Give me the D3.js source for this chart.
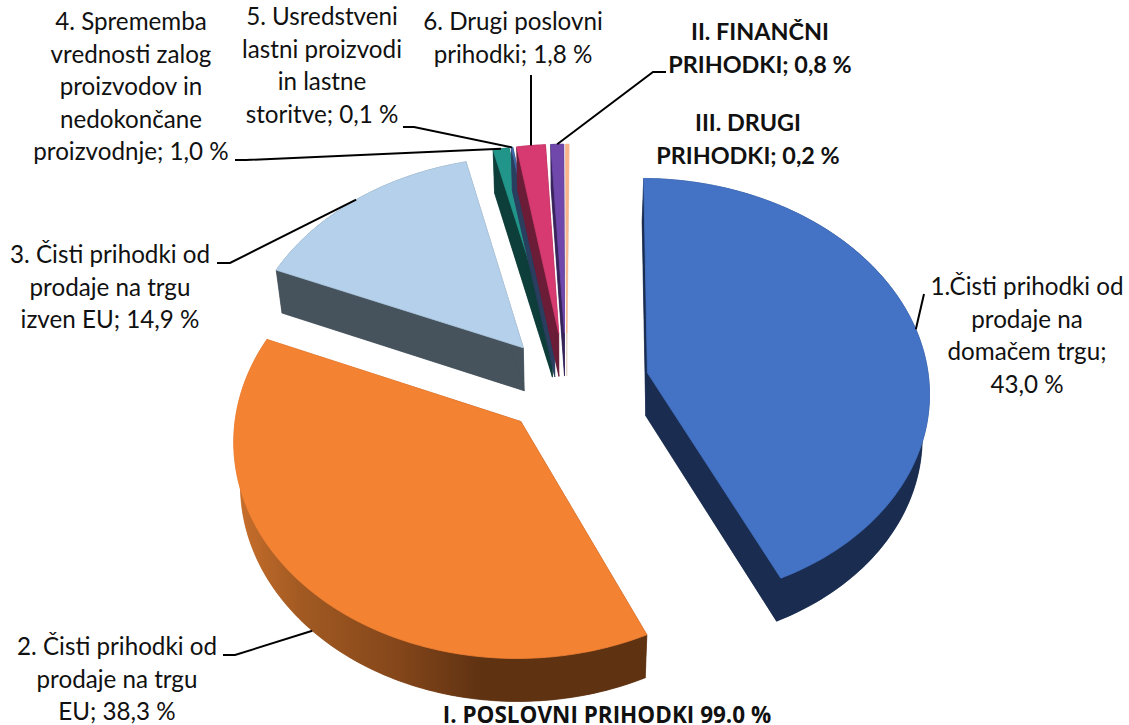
<!DOCTYPE html>
<html>
<head>
<meta charset="utf-8">
<script src="https://cdn.jsdelivr.net/npm/d3@7"></script>
<style>
    html, body { margin: 0; padding: 0; background: #fff; overflow: hidden; }
    text { font-family: Lato, sans-serif; fill: #111; }
</style>
</head>
<body>
<div id="graphContainer"></div>
<script>
// values (percent of total income)
const categories = [
    "1.Čisti prihodki od prodaje na domačem trgu",
    "2. Čisti prihodki od prodaje na trgu EU",
    "3. Čisti prihodki od prodaje na trgu izven EU",
    "4. Sprememba vrednosti zalog proizvodov in nedokončane proizvodnje",
    "5. Usredstveni lastni proizvodi in lastne storitve",
    "6. Drugi poslovni prihodki",
    "II. FINANČNI PRIHODKI",
    "III. DRUGI PRIHODKI"
]
const shares = [43.0, 38.3, 14.9, 1.0, 0.1, 1.8, 0.8, 0.2]
const labelLines = [
    ["1.Čisti prihodki od", "prodaje na", "domačem trgu;", "43,0 %"],
    ["2. Čisti prihodki od", "prodaje na trgu", "EU; 38,3 %"],
    ["3. Čisti prihodki od", "prodaje na trgu", "izven EU; 14,9 %"],
    ["4. Sprememba", "vrednosti zalog", "proizvodov in", "nedokončane", "proizvodnje; 1,0 %"],
    ["5. Usredstveni", "lastni proizvodi", "in lastne", "storitve; 0,1 %"],
    ["6. Drugi poslovni", "prihodki; 1,8 %"],
    ["II. FINANČNI", "PRIHODKI; 0,8 %"],
    ["III. DRUGI", "PRIHODKI; 0,2 %"]
]
const totalLabel = "I. POSLOVNI PRIHODKI 99.0 %"

// styling, one entry per slice
const topColors = ["#4472c4", "#f38233", "#b5d0ea", "#22958a", "#3f6aa8", "#d63a70", "#7048ac", "#f9b48a"]
const wallColors = ["#1a2d50", "url(#orangeWall)", "#46535d", "#0e3e3a", "#2a3f5f", "#6b1d38", "#38245a", "#e8d5c8"]
const explode = [0.295, 0.23, 0.24, 0.255, 0.255, 0.255, 0.255, 0.255]
const labelX = [1027, 117, 110, 131, 322, 513, 760, 748]
const labelY = [295, 655, 263, 30, 25, 30, 40, 131]
const boldLabel = [false, false, false, false, false, false, true, true]
const leaderStart = [
    [[924, 294]],
    [[223, 655], [235, 655]],
    [[217, 263], [230, 263]],
    [[235, 160], [246, 160]],
    [[403, 127], [414, 127]],
    [[531, 75]],
    [[666, 72], [653, 72]],
    null
]
const leaderOnWall = [false, true, false, false, false, false, false, false]

// dimensions for svg
const measurements = { width: 1129, height: 725 }
// pie projection: centre, radii, perspective strength, thickness
const pieGeom = { cx: 566.5, cy: 386, rx: 282, ry: 212, k: 0.08, depth: 43, shrink: 0.98 }
const pieRotation = 0.0087
const lineGap = 32.5

const svgContainer = d3.select("#graphContainer").append("svg")
    .attr("width", measurements.width)
    .attr("height", measurements.height)

const grad = svgContainer.append("defs").append("linearGradient")
    .attr("id", "orangeWall")
    .attr("gradientUnits", "userSpaceOnUse")
    .attr("x1", 235).attr("x2", 645).attr("y1", 0).attr("y2", 0)
const wallStops = [[0, "#c96f2c"], [0.16, "#a25a22"], [0.4, "#84461a"], [0.6, "#5f3212"], [1, "#5f3212"]]
wallStops.forEach((s) => grad.append("stop").attr("offset", s[0]).attr("stop-color", s[1]))

const slices = d3.pie().sort(null).startAngle(pieRotation).endAngle(2 * Math.PI + pieRotation)(shares)

// disc coordinates to screen, the nearer part of the disc is drawn bigger
function project(u, v) {
    const s = 1 / (1 - pieGeom.k * v)
    return [pieGeom.cx + pieGeom.rx * u * s, pieGeom.cy + pieGeom.ry * v * s]
}

function dropDown(p) {
    return [pieGeom.cx + (p[0] - pieGeom.cx) * pieGeom.shrink, p[1] + pieGeom.depth]
}

function rimPoint(d, i, angle) {
    const mid = (d.startAngle + d.endAngle) / 2
    const ox = explode[i] * Math.sin(mid)
    const oy = -explode[i] * Math.cos(mid)
    return project(ox + Math.sin(angle), oy - Math.cos(angle))
}

function apexPoint(d, i) {
    const mid = (d.startAngle + d.endAngle) / 2
    return project(explode[i] * Math.sin(mid), -explode[i] * Math.cos(mid))
}

const line = d3.line()
const closed = (pts) => line(pts) + "Z"

slices.forEach((d, i) => {
    const apex = apexPoint(d, i)
    const steps = Math.max(2, Math.ceil((d.endAngle - d.startAngle) / 0.02))
    const rim = d3.range(steps + 1).map((j) => rimPoint(d, i, d.startAngle + (d.endAngle - d.startAngle) * j / steps))
    const rimLow = rim.map(dropDown)
    const apexLow = dropDown(apex)
    const g = svgContainer.append("g").attr("class", "slice")

    const wallShapes = [
        [apexLow].concat(rimLow),
        [apex, rim[0], rimLow[0], apexLow],
        [apex, rim[steps], rimLow[steps], apexLow],
        rim.concat(rimLow.slice().reverse())
    ]
    g.selectAll("path.wall")
        .data(wallShapes)
        .enter()
        .append("path")
        .attr("class", "wall")
        .attr("d", closed)
        .attr("fill", wallColors[i])
        .attr("stroke", wallColors[i])
        .attr("stroke-width", 0.4)

    // own stroke so the wall does not fringe the top face
    g.append("path")
        .attr("d", closed([apex].concat(rim)))
        .attr("fill", topColors[i])
        .attr("stroke", topColors[i])
        .attr("stroke-width", 0.8)
})

// leader lines go from the label to the rim at the middle of the slice
slices.forEach((d, i) => {
    if (!leaderStart[i]) return
    let end = rimPoint(d, i, (d.startAngle + d.endAngle) / 2)
    if (leaderOnWall[i]) end = dropDown(end)
    svgContainer.append("path")
        .attr("d", line(leaderStart[i].concat([end])))
        .attr("fill", "none")
        .attr("stroke", "#000")
        .attr("stroke-width", 2)
})

labelLines.forEach((lines, i) => {
    svgContainer.selectAll(null)
        .data(lines)
        .enter()
        .append("text")
        .attr("x", labelX[i])
        .attr("y", (t, j) => labelY[i] + j * lineGap)
        .attr("text-anchor", "middle")
        .attr("font-size", boldLabel[i] ? 23.4 : 24.2)
        .attr("font-weight", boldLabel[i] ? 700 : 400)
        .text((t) => t)
})

svgContainer.append("text")
    .attr("x", 607)
    .attr("y", 723)
    .attr("text-anchor", "middle")
    .attr("font-size", 22.5)
    .attr("font-weight", 700)
    .style("font-family", "'Open Sans', sans-serif")
    .text(totalLabel)
</script>
</body>
</html>
